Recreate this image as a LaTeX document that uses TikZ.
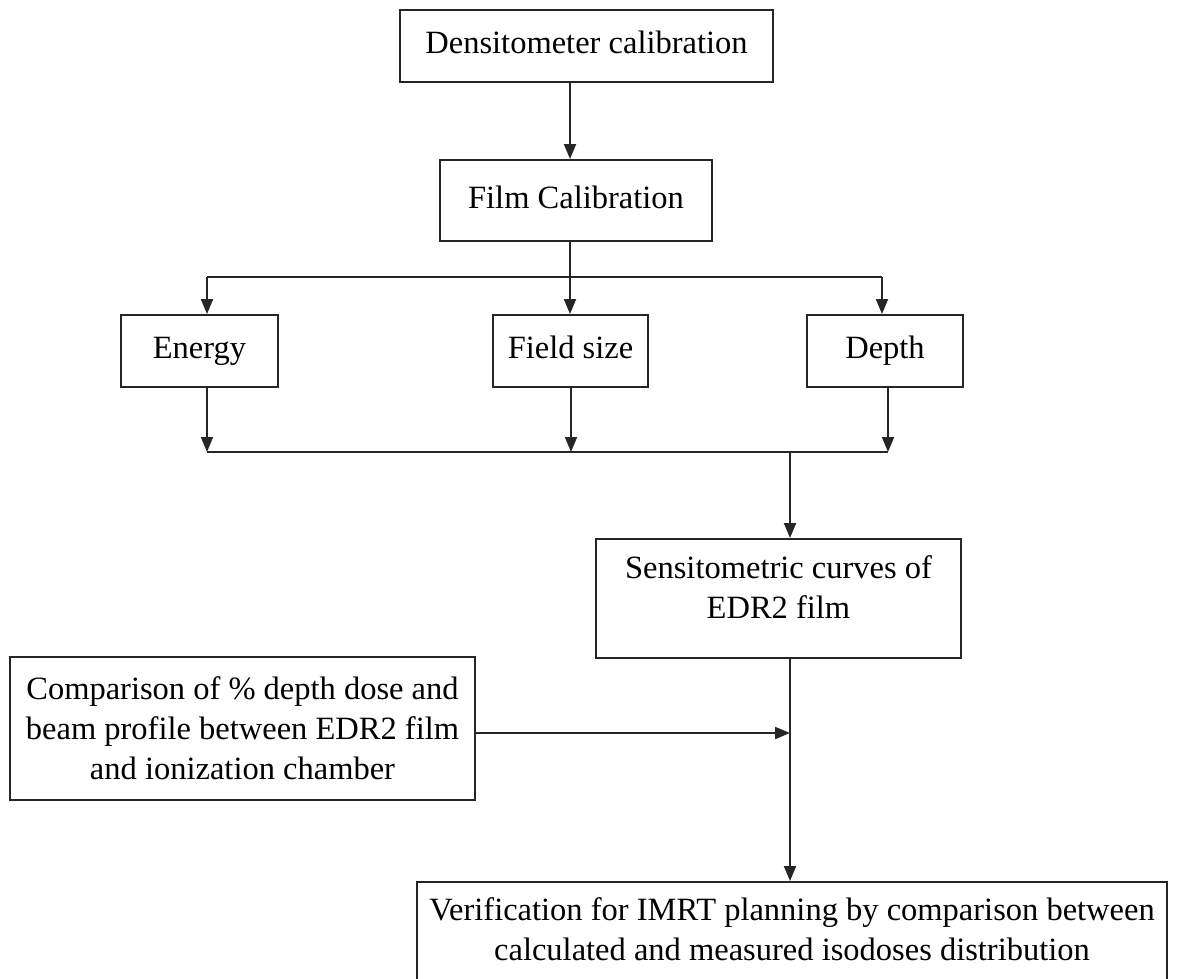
\documentclass[tikz,border=0pt]{standalone}
\usepackage{fontspec}
\setmainfont{Liberation Serif}
\usetikzlibrary{arrows.meta}
\begin{document}
\begin{tikzpicture}[x=1pt,y=-1pt,
  box/.style={draw=black!85, line width=1.9pt, inner sep=0pt, align=center, font=\fontsize{32.5}{40}\selectfont},
  one/.style={text height=22pt, text depth=7pt},
  txt/.style={inner sep=0pt, align=center, font=\fontsize{32.5}{40}\selectfont},
  ln/.style={draw=black!85, line width=1.9pt},
  arr/.style={ln, -{Triangle[length=15pt,width=12pt]}}]
\useasboundingbox (0,0) rectangle (1184,979);
\fill[white] (0,0) rectangle (1184,979);
% boxes
\node[box, one, minimum width=373pt, minimum height=72pt] (densi) at (586.5,46) {Densitometer calibration};
\node[box, one, minimum width=272pt, minimum height=81pt] (film) at (576,200.5) {Film Calibration};
\node[box, one, minimum width=157pt, minimum height=72pt] (energy) at (199.5,351) {Energy};
\node[box, one, minimum width=155pt, minimum height=72pt] (field) at (570.5,351) {Field size};
\node[box, one, minimum width=156pt, minimum height=72pt] (depth) at (885,351) {Depth};
\node[box, minimum width=365pt, minimum height=119pt] (sensi) at (778.5,598.5) {};
\node[txt] (sensiT) at (778.5,587) {Sensitometric curves of\\EDR2 film};
\node[box, minimum width=465pt, minimum height=143pt] (comp) at (242.5,728.5) {Comparison of \% depth dose and\\beam profile between EDR2 film\\and ionization chamber};
\node[box, minimum width=750pt, minimum height=100pt] (verif) at (792,932) {};
\node[txt] (verifT) at (792,929) {Verification for IMRT planning by comparison between\\calculated and measured isodoses distribution};
% coordinates
\coordinate (ea) at (207,277);
\coordinate (fa) at (570,277);
\coordinate (da) at (882,277);
\coordinate (em) at (207,452);
\coordinate (fm) at (571,452);
\coordinate (dm) at (888,452);
\coordinate (sm) at (790,452);
\coordinate (ca) at (790,733);
% connectors
\draw[arr] ([xshift=-6pt]film.north |- densi.south) -- ([xshift=-6pt]film.north);
\draw[ln] ([xshift=-6pt]film.south) -- (fa);
\draw[ln] (ea) -- (da);
\draw[arr] (ea) -- (ea |- energy.north);
\draw[arr] (fa) -- (fa |- field.north);
\draw[arr] (da) -- (da |- depth.north);
\draw[arr] (em |- energy.south) -- (em);
\draw[arr] (fm |- field.south) -- (fm);
\draw[arr] (dm |- depth.south) -- (dm);
\draw[ln] (em) -- (dm);
\draw[arr] (sm) -- (sm |- sensi.north);
\draw[arr] (sm |- sensi.south) -- (sm |- verif.north);
\draw[arr] (comp.east |- ca) -- (ca);
\end{tikzpicture}
\end{document}
